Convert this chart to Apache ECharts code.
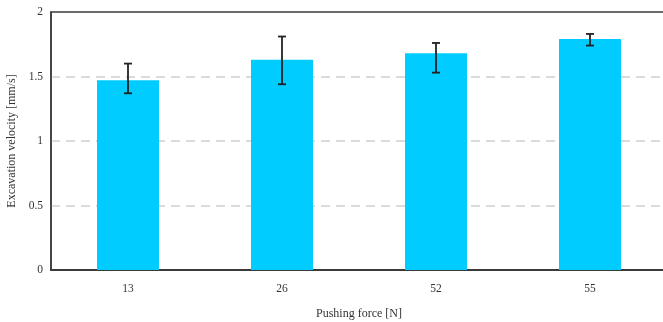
<!DOCTYPE html>
<html>
<head>
<meta charset="utf-8">
<script src="https://cdn.jsdelivr.net/npm/echarts@6/dist/echarts.min.js"></script>
<style>
  html, body { margin: 0; padding: 0; background: #fff; overflow: hidden; }
  #chart { width: 663px; height: 322px; }
</style>
</head>
<body>
<div id="chart"></div>
<script>
// Pushing force categories and measured excavation velocity (mean with error range)
const categories = ['13', '26', '52', '55'];
const velocity = [1.47, 1.63, 1.68, 1.79];
const errLow = [1.37, 1.44, 1.53, 1.74];
const errHigh = [1.60, 1.81, 1.76, 1.83];
const yTicks = [0, 0.5, 1, 1.5, 2];

const FONT = 'Liberation Serif';
const chart = echarts.init(document.getElementById('chart'), null, { renderer: 'canvas' });

const errData = categories.map((c, i) => [i, errLow[i], errHigh[i]]);

chart.setOption({
  animation: false,
  backgroundColor: '#ffffff',
  grid: {
    left: 51, top: 12, width: 616, height: 258,
    outerBoundsMode: 'none',
    containLabel: false,
    show: true, borderColor: '#3a3a3a', borderWidth: 1.5, backgroundColor: 'transparent'
  },
  xAxis: {
    type: 'category',
    data: categories,
    name: 'Pushing force [N]',
    nameLocation: 'middle',
    nameGap: 38,
    nameTextStyle: { fontFamily: FONT, fontSize: 12, color: '#333' },
    axisTick: { show: false },
    axisLine: { show: true, lineStyle: { color: '#3a3a3a', width: 2 } },
    axisLabel: { fontFamily: FONT, fontSize: 11.5, color: '#333', margin: 13 },
    splitLine: { show: false }
  },
  yAxis: {
    type: 'value',
    min: yTicks[0],
    max: yTicks[yTicks.length - 1],
    interval: 0.5,
    name: 'Excavation velocity [mm/s]',
    nameLocation: 'middle',
    nameGap: 31,
    nameTextStyle: { fontFamily: FONT, fontSize: 12, color: '#333' },
    axisTick: { show: false },
    axisLine: { show: true, lineStyle: { color: '#3a3a3a', width: 1.5 } },
    axisLabel: { fontFamily: FONT, fontSize: 11.5, color: '#333', margin: 8 },
    splitLine: {
      show: true, showMinLine: false, showMaxLine: false,
      lineStyle: { color: '#cfcfcf', width: 1.5, type: [9, 6] }
    }
  },
  series: [
    {
      type: 'bar',
      data: velocity,
      barWidth: 62,
      itemStyle: { color: '#00ccff' },
      z: 2
    },
    {
      type: 'custom',
      data: errData,
      z: 3,
      renderItem: function (params, api) {
        const x = api.value(0);
        const lo = api.coord([x, api.value(1)]);
        const hi = api.coord([x, api.value(2)]);
        const cap = 4;
        const style = { stroke: '#222', lineWidth: 1.8 };
        return {
          type: 'group',
          children: [
            { type: 'line', shape: { x1: hi[0], y1: hi[1], x2: lo[0], y2: lo[1] }, style },
            { type: 'line', shape: { x1: hi[0] - cap, y1: hi[1], x2: hi[0] + cap, y2: hi[1] }, style },
            { type: 'line', shape: { x1: lo[0] - cap, y1: lo[1], x2: lo[0] + cap, y2: lo[1] }, style }
          ]
        };
      }
    }
  ]
});
</script>
</body>
</html>
